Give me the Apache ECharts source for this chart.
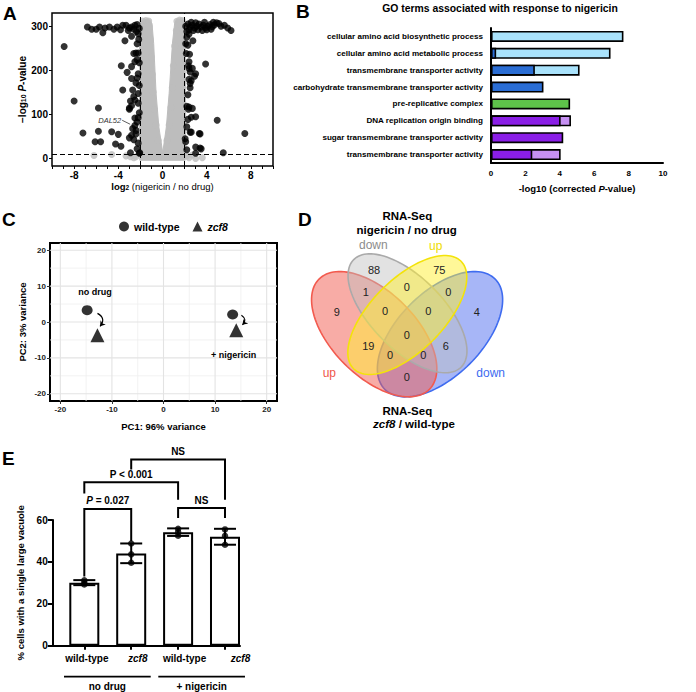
<!DOCTYPE html>
<html>
<head>
<meta charset="utf-8">
<title>Response to nigericin</title>
<script src="https://cdn.jsdelivr.net/npm/echarts@6.0.0/dist/echarts.min.js"></script>
<style>
  html, body { margin: 0; padding: 0; background: #fff; }
  #chart { width: 696px; height: 692px; }
</style>
</head>
<body>
<div id="chart"></div>
<script>
var FF = '"Liberation Sans", Arial, Helvetica, sans-serif';

// ---------- A: volcano plot, [log2 FC, -log10 P] ----------
var volcanoSig = [
  [-8.9,254],[-8.0,130],[-7.2,57],[-6.1,37],[-5.6,37],[-5.8,61],[-5.8,114],[-4.6,60],[-4.0,54],[-4.25,32],
  [-3.76,27],[-3.73,210],[-3.2,195],[-3.6,155],[-2.9,130],[-3.0,114],[-3.4,267],[-2.8,277],[-3.0,111],
  [-6.8,298],[-6.4,293],[-6.0,293],[-5.7,298],[-5.4,285],[-5.2,296],[-4.8,298],[-4.4,293],[-4.1,298],[-3.8,292],
  [-3.6,302],[-3.3,302],[-3.1,290],[-2.8,298],[-2.5,302],[-2.36,288],[-2.1,295],[-2.3,304],[-2.6,293],[-3.0,296],[-2.2,283],
  [-2.4,239],[-2.2,239],[-2.3,224],[-2.1,217],[-2.2,192],[-2.3,182],[-2.4,171],[-2.1,165],[-2.2,147],[-2.6,140],
  [-2.2,125],[-2.1,103],[-2.3,82],[-2.5,74],[-2.7,67],[-2.4,63],[-2.8,52],[-3.0,46],[-2.4,55],[-2.2,34],
  [-2.3,21],[-2.1,11],[-2.6,42],[-2.2,92],[-2.5,91],[-2.9,12],[-2.8,181],[-2.5,219],[-2.6,238],[-2.8,208],
  [-2.7,155],[-2.5,132],[-2.8,119],[-2.06,12],[-2.3,260],[-2.15,270],
  [6.2,290],[3.9,214],[4.95,86],[7.45,56],[3.33,56],[3.5,21],[5.5,12],[3.0,11],[2.6,93],[3.0,94],
  [2.35,111],[2.2,118],[2.5,160],[2.6,176],[2.9,186],[3.0,192],[2.5,196],[2.35,210],[2.45,236],[2.75,267],
  [2.3,257],[2.05,44],[2.1,37],[2.2,71],[2.3,144],[2.15,238],[2.2,19],[2.4,219],[2.4,204],[2.7,204],
  [2.4,179],[2.5,170],[2.4,116],[2.7,113],[2.3,88],[2.5,59],[2.6,59],[3.4,55],[3.0,25],[3.4,23],
  [2.2,275],[2.4,282],[2.1,260],
  [2.1,300],[2.3,305],[2.5,298],[2.7,302],[2.9,296],[3.1,300],[3.3,305],[3.5,298],[3.7,302],[3.9,296],
  [4.1,300],[4.3,304],[4.5,299],[4.7,303],[4.9,308],[5.1,306],[5.3,300],[5.6,302],[5.9,296],[2.4,292],
  [2.8,290],[3.2,292],[3.6,290],[2.2,288],[4.0,292],[4.4,293],[3.0,308],[3.8,309],[2.6,309],[4.6,309]
];
// grey (not significant) points lying outside the dense cloud or on its ragged edge
var volcanoGrey = [
  [-6.2,6],[-4.6,8],[-3.3,5],[-2.9,3],[-2.6,1],[-2.4,3],[2.4,1],[2.7,7],[3.0,-1],[2.2,5],[3.6,1],
  [-1.8,312],[-1.5,313],[-1.25,312],[-1.2,300],[-1.12,270],[-1.02,230],[-0.92,190],[-0.84,150],[-0.72,110],
  [-0.58,75],[-0.38,40],[0.4,40],[0.6,75],[0.76,115],[0.88,160],[0.98,210],[1.1,255],[1.25,290],
  [1.3,311],[1.55,314],[1.8,313],[1.9,305]
];
// outline of the dense grey cloud of non-significant genes
var volcanoCloud = [
  [-2.05,-5],[-2.1,100],[-2.05,200],[-2.1,290],[-1.9,312],[-1.5,315],[-1.15,314],[-0.95,306],[-0.8,261],
  [-0.58,147],[-0.33,71],[0.02,12],[0.35,71],[0.6,147],[0.9,261],[1.1,306],[1.25,315],[1.6,316],
  [1.95,312],[2.1,290],[2.05,200],[2.1,100],[2.05,-5]
];
var dal52 = [-2.6, 75];
var fcCut = 2;
var pCut = 8;

// ---------- B: GO terms ----------
var goTerms = [
  'cellular amino acid biosynthetic process',
  'cellular amino acid metabolic process',
  'transmembrane transporter activity',
  'carbohydrate transmembrane transporter activity',
  'pre-replicative complex',
  'DNA replication origin binding',
  'sugar transmembrane transporter activity',
  'transmembrane transporter activity'
];
var goDark  = [null, 0.3, 2.55, 3.05, 4.6, 4.05, 4.2, 2.4];
var goLight = [7.7, 6.95, 5.15, null, null, 4.65, null, 4.05];
var goDarkColor  = ['#2a6dd4', '#2a6dd4', '#2a6dd4', '#2a6dd4', '#5ec24a', '#8a1ee6', '#8a1ee6', '#8a1ee6'];
var goLightColor = ['#a9e2fb', '#a9e2fb', '#a9e2fb', '#a9e2fb', '#a9e2fb', '#c690f3', '#c690f3', '#c690f3'];

// ---------- C: PCA ----------
var pcaWildType = [[-14.8, 3.3], [13.4, 2.1]];
var pcaZcf8 = [[-12.8, -3.7], [14.1, -2.3]];
var pcaMajor = [-20, -10, 0, 10, 20];
var pcaMinor = [-15, -5, 5, 15];

// ---------- D: Venn ----------
var vennCounts = [88, 75, 9, 4, 1, 0, 0, 0, 0, 0, 19, 6, 0, 0, 0];
// layout: label position of each region (panel units)
var vennLabelPos = [[74,70],[139.3,70],[36.7,111.7],[176.7,111.7],[65.7,91.7],[106.7,87.3],[148.3,91.7],
  [85,111],[128.3,111],[106.7,135],[68.3,145.7],[145.7,145.7],[90,155],[123.3,155],[106.7,176.7]];
var vennShapes = [
  {cx:140, cy:134.2, a:78, b:42, ang:-45, fill:'rgba(79,110,240,0.5)', stroke:'#3f6cf0'},
  {cx:74.2, cy:134.2, a:78, b:42, ang:45, fill:'rgba(242,90,78,0.5)', stroke:'#f25a4e'},
  {cx:107.5, cy:113.3, a:76, b:36, ang:45, fill:'rgba(190,190,190,0.45)', stroke:'#aaaaaa'},
  {cx:107.3, cy:115, a:76, b:36, ang:-45, fill:'rgba(255,240,50,0.5)', stroke:'#f3e30a'}
];

// ---------- E: vacuole morphology ----------
var vacGroups = ['wild-type', 'zcf8', 'wild-type', 'zcf8'];
var vacMean = [30.1, 44.0, 54.2, 52.0];
var vacLow  = [28.9, 39.4, 52.4, 48.2];
var vacHigh = [31.3, 48.8, 56.0, 55.8];
var vacPoints = [[31.2, 30.0, 29.2], [48.8, 43.6, 39.6], [55.8, 54.3, 52.5], [55.5, 52.4, 48.2]];
var sigPairs = [[0, 1], [0, 2], [2, 3], [1, 3]];
var sigLevel = [65.3, 78, 65.7, 88.9];
var sigLegEnds = [[33, 49.8], [72.6, 69.7], [61, 61], [84.1, 69.7]];
var sigText = ['{i|P} = 0.027', 'P < 0.001', 'NS', 'NS'];
var treatGroups = ['no drug', '+ nigericin'];
var treatSpan = [[-0.433, 1.416], [1.578, 3.426]];

function txt(x, y, text, o) {
  o = o || {};
  return {type:'text', x:x, y:y, silent:true, style:{
    text:text, fill:o.color || '#000', fontSize:o.size || 10, fontWeight:o.weight || 'bold',
    fontStyle:o.style || 'normal', fontFamily:FF,
    align:o.align || 'center', textAlign:o.align || 'center',
    verticalAlign:o.va || 'middle', textVerticalAlign:o.va || 'middle', rich:o.rich }};
}
function once(g, z, draw) {
  return {type:'custom', xAxisIndex:g, yAxisIndex:g, z:z, silent:true, data:[[0,0]],
    renderItem:function (params, api) { return {type:'group', children:draw(api)}; }};
}
var ticksA = []; for (var t = -10; t <= 10; t++) ticksA.push(t);
var ticksB = [0,1,2,3,4,5,6,7,8,9,10];

var option = {
  animation: false,
  textStyle: {fontFamily: FF},
  grid: [
    {left:52, top:13, width:221, height:153, show:true, borderColor:'#000', borderWidth:1.5, outerBoundsMode:'none'},
    {left:491, top:28, width:172, height:135, outerBoundsMode:'none'},
    {left:50, top:243, width:227, height:158, show:true, borderColor:'#000', borderWidth:2, outerBoundsMode:'none'},
    {left:300, top:200, width:230, height:230, outerBoundsMode:'none'},
    {left:52.7, top:520, width:187.3, height:125.7, outerBoundsMode:'none'}
  ],
  legend: {
    data: [{name:'wild-type', icon:'circle'}, {name:'zcf8', icon:'triangle', textStyle:{fontStyle:'italic'}}],
    left: 114, top: 216, itemWidth: 10, itemHeight: 10, itemGap: 13, selectedMode: false,
    textStyle: {fontFamily:FF, fontWeight:'bold', fontSize:10.5, color:'#000'}
  },
  xAxis: [
    {gridIndex:0, type:'value', min:-10, max:10, splitLine:{show:false},
      axisLine:{show:false, onZero:false},
      axisTick:{customValues:ticksA, length:3, lineStyle:{color:'#000'}},
      axisLabel:{customValues:[-8,-4,0,4,8], color:'#000', fontWeight:'bold', fontSize:10, margin:4},
      name:'{b|log}{s|2} (nigericin / no drug)', nameLocation:'middle', nameGap:15,
      nameTextStyle:{color:'#000', fontSize:9.5, fontFamily:FF,
        rich:{b:{fontWeight:'bold', fontSize:9.5}, s:{fontWeight:'bold', fontSize:6.5, verticalAlign:'bottom', lineHeight:6}}}},
    {gridIndex:1, type:'value', min:0, max:10, splitLine:{show:false},
      axisLine:{show:true, onZero:false, lineStyle:{color:'#000', width:2}},
      axisTick:{customValues:ticksB, length:4, lineStyle:{color:'#000', width:1.5}},
      axisLabel:{customValues:[0,2,4,6,8,10], color:'#000', fontWeight:'bold', fontSize:8, margin:6},
      name:'-log10 (corrected {i|P}-value)', nameLocation:'middle', nameGap:20,
      nameTextStyle:{color:'#000', fontSize:9.5, fontWeight:'bold', fontFamily:FF,
        rich:{i:{fontStyle:'italic', fontWeight:'bold', fontSize:9.5}}}},
    {gridIndex:2, type:'value', min:-22, max:22, splitLine:{show:false},
      axisLine:{show:false, onZero:false},
      axisTick:{customValues:pcaMajor, length:3, lineStyle:{color:'#333'}},
      axisLabel:{customValues:pcaMajor, color:'#222', fontWeight:'bold', fontSize:8, margin:4},
      name:'PC1: 96% variance', nameLocation:'middle', nameGap:20,
      nameTextStyle:{color:'#000', fontSize:9.5, fontWeight:'bold', fontFamily:FF}},
    {gridIndex:3, type:'value', min:0, max:230, show:false},
    {gridIndex:4, type:'value', min:-0.674, max:3.32, splitLine:{show:false},
      axisLine:{show:true, onZero:false, lineStyle:{color:'#000', width:2}},
      axisTick:{customValues:[0,1,2,3], length:4, lineStyle:{color:'#000', width:2}},
      axisLabel:{customValues:[0,1,2,3], margin:8, color:'#000', fontWeight:'bold', fontSize:10,
        formatter:function (v) { var i = Math.round(v); return '{' + 'abcd'[i] + '|' + vacGroups[i] + '}'; },
        rich:{a:{padding:[0,0,0,5], fontWeight:'bold', fontSize:10},
              b:{padding:[0,0,0,13], fontWeight:'bold', fontStyle:'italic', fontSize:10},
              c:{padding:[0,0,0,13], fontWeight:'bold', fontSize:10},
              d:{padding:[0,0,0,31], fontWeight:'bold', fontStyle:'italic', fontSize:10}}}}
  ],
  yAxis: [
    {gridIndex:0, type:'value', min:-18, max:330, splitLine:{show:false},
      axisLine:{show:false, onZero:false},
      axisTick:{customValues:[0,100,200,300], length:3, lineStyle:{color:'#000'}},
      axisLabel:{customValues:[0,100,200,300], color:'#000', fontWeight:'bold', fontSize:10, margin:4},
      name:'\u2212log{s|10} {i|P}-value', nameLocation:'middle', nameGap:25,
      nameTextStyle:{color:'#000', fontSize:10, fontWeight:'bold', fontFamily:FF,
        rich:{s:{fontWeight:'bold', fontSize:7, verticalAlign:'bottom', lineHeight:7}, i:{fontWeight:'bold', fontStyle:'italic', fontSize:10}}}},
    {gridIndex:1, type:'category', inverse:true,
      data:goTerms.map(function (t, i) { return i + ':' + t; }),
      axisLine:{show:true, lineStyle:{color:'#000', width:2}},
      axisTick:{alignWithLabel:true, length:4, lineStyle:{color:'#000', width:1.5}},
      axisLabel:{color:'#000', fontWeight:'bold', fontSize:8.1, margin:8,
        formatter:function (v, i) { return goTerms[i]; }}},
    {gridIndex:2, type:'value', min:-22, max:22, splitLine:{show:false},
      axisLine:{show:false, onZero:false},
      axisTick:{customValues:pcaMajor, length:3, lineStyle:{color:'#333'}},
      axisLabel:{customValues:pcaMajor, color:'#222', fontWeight:'bold', fontSize:8, margin:4},
      name:'PC2: 3% variance', nameLocation:'middle', nameGap:23,
      nameTextStyle:{color:'#000', fontSize:9.5, fontWeight:'bold', fontFamily:FF}},
    {gridIndex:3, type:'value', min:0, max:230, inverse:true, show:false},
    {gridIndex:4, type:'value', min:0, max:60, interval:20, splitLine:{show:false},
      axisLine:{show:true, onZero:false, lineStyle:{color:'#000', width:2}},
      axisTick:{length:5, lineStyle:{color:'#000', width:2}},
      axisLabel:{color:'#000', fontWeight:'bold', fontSize:10, margin:5},
      name:'% cells with a single large vacuole', nameLocation:'middle', nameGap:27,
      nameTextStyle:{color:'#000', fontSize:9.5, fontWeight:'bold', fontFamily:FF}}
  ],
  graphic: [
    txt(3, 4, 'A', {size:19, align:'left', va:'top'}),
    txt(296, 2, 'B', {size:19, align:'left', va:'top'}),
    txt(2, 210, 'C', {size:19, align:'left', va:'top'}),
    txt(298, 210, 'D', {size:19, align:'left', va:'top'}),
    txt(2, 449, 'E', {size:19, align:'left', va:'top'}),
    txt(500, 8.5, 'GO terms associated with response to nigericin', {size:10.4}),
    txt(407.3, 216, 'RNA-Seq', {size:11.5}),
    txt(406.7, 230, 'nigericin / no drug', {size:11.5}),
    txt(373.3, 245, 'down', {size:12, weight:'normal', color:'#8c8c8c'}),
    txt(435.7, 245.7, 'up', {size:12, weight:'normal', color:'#eedc00'}),
    txt(329.3, 373.3, 'up', {size:12, weight:'normal', color:'#f0564a'}),
    txt(490.7, 373.3, 'down', {size:12, weight:'normal', color:'#3d6bf0'}),
    txt(407.3, 410.7, 'RNA-Seq', {size:11.5}),
    txt(414, 424, '{i|zcf8} / wild-type', {size:11.5, rich:{i:{fontStyle:'italic', fontWeight:'bold', fontSize:11.5, fontFamily:FF}}})
  ],
  series: [
    // ----- A -----
    once(0, 1, function (api) {
      return [{type:'polygon', shape:{points:volcanoCloud.map(function (p) { return api.coord(p); })},
        style:{fill:'#bdbdbd', stroke:'#bdbdbd', lineWidth:1}}];
    }),
    {type:'scatter', xAxisIndex:0, yAxisIndex:0, z:2, silent:true, data:volcanoGrey, symbolSize:7,
      itemStyle:{color:'#bdbdbd'},
      markLine:{silent:true, symbol:['none','none'], label:{show:false},
        lineStyle:{color:'#000', type:[5,3], width:1},
        data:[{xAxis:-fcCut}, {xAxis:fcCut}, {yAxis:pCut}]}},
    {type:'scatter', xAxisIndex:0, yAxisIndex:0, z:3, silent:true, data:volcanoSig, symbolSize:7,
      itemStyle:{color:'#000'}},
    once(0, 4, function (api) {
      var a = api.coord([-3.74, 86]), b = api.coord([-2.93, 77]);
      return [txt(a[0], a[1], 'DAL52', {size:7.5, weight:'normal', style:'italic', color:'#333', align:'right'}),
        {type:'line', shape:{x1:a[0] + 1, y1:a[1], x2:b[0], y2:b[1]}, style:{stroke:'#333', lineWidth:0.8}}];
    }),
    // ----- B -----
    {type:'bar', xAxisIndex:1, yAxisIndex:1, barWidth:11, barGap:'-100%', silent:true,
      data:goLight.map(function (v, i) { return {value: v == null ? '-' : v, itemStyle:{color:goLightColor[i]}}; }),
      itemStyle:{borderColor:'#000', borderWidth:1.6}},
    {type:'bar', xAxisIndex:1, yAxisIndex:1, barWidth:11, barGap:'-100%', silent:true,
      data:goDark.map(function (v, i) { return {value: v == null ? '-' : v, itemStyle:{color:goDarkColor[i]}}; }),
      itemStyle:{borderColor:'#000', borderWidth:1.6}},
    // ----- C -----
    once(2, 1, function (api) {
      var els = [];
      function vline(v, c, w) { var p = api.coord([v, -22]), q = api.coord([v, 22]);
        els.push({type:'line', shape:{x1:p[0], y1:p[1], x2:q[0], y2:q[1]}, style:{stroke:c, lineWidth:w}}); }
      function hline(v, c, w) { var p = api.coord([-22, v]), q = api.coord([22, v]);
        els.push({type:'line', shape:{x1:p[0], y1:p[1], x2:q[0], y2:q[1]}, style:{stroke:c, lineWidth:w}}); }
      pcaMinor.forEach(function (v) { vline(v, '#efefef', 0.8); hline(v, '#efefef', 0.8); });
      pcaMajor.forEach(function (v) { vline(v, '#e3e3e3', 1.1); hline(v, '#e3e3e3', 1.1); });
      return els;
    }),
    {type:'scatter', name:'wild-type', xAxisIndex:2, yAxisIndex:2, z:3, silent:true, data:pcaWildType,
      symbol:'circle', symbolSize:[11, 10], itemStyle:{color:'#000'}},
    {type:'scatter', name:'zcf8', xAxisIndex:2, yAxisIndex:2, z:3, silent:true, data:pcaZcf8,
      symbol:'triangle', symbolSize:14, itemStyle:{color:'#000'}},
    {type:'lines', coordinateSystem:'cartesian2d', xAxisIndex:2, yAxisIndex:2, z:4, silent:true,
      symbol:['none','arrow'], symbolSize:5,
      lineStyle:{color:'#000', width:1.2, curveness:0.6, opacity:1},
      data:[{coords:[[-12.8, 2.4], [-12.3, -1.2]]}, {coords:[[15.1, 1.9], [15.3, -0.8]]}]},
    once(2, 5, function (api) {
      var a = api.coord([-13.3, 8.4]), b = api.coord([13.6, -9.1]);
      return [txt(a[0], a[1], 'no drug', {size:9}), txt(b[0], b[1], '+ nigericin', {size:9})];
    }),
    // ----- D -----
    {type:'custom', xAxisIndex:3, yAxisIndex:3, z:2, silent:true,
      data:vennShapes.map(function (e) { return [e.cx, e.cy]; }),
      renderItem:function (params, api) {
        var e = vennShapes[params.dataIndex];
        var c = api.coord([e.cx, e.cy]);
        var s = api.size([e.a, e.b]);
        var ra = Math.abs(s[0]), rb = Math.abs(s[1]);
        var t = e.ang * Math.PI / 180, pts = [];
        for (var k = 0; k < 120; k++) {
          var th = k / 120 * 2 * Math.PI, u = ra * Math.cos(th), v = rb * Math.sin(th);
          pts.push([c[0] + u * Math.cos(t) - v * Math.sin(t), c[1] + u * Math.sin(t) + v * Math.cos(t)]);
        }
        return {type:'polygon', shape:{points:pts}, style:{fill:e.fill, stroke:e.stroke, lineWidth:1.6}};
      }},
    {type:'custom', xAxisIndex:3, yAxisIndex:3, z:3, silent:true,
      data:vennCounts.map(function (c, i) { return [vennLabelPos[i][0], vennLabelPos[i][1], c]; }),
      renderItem:function (params, api) {
        var p = api.coord([api.value(0), api.value(1)]);
        return txt(p[0], p[1], String(api.value(2)), {size:11, weight:'normal', color:'#222'});
      }},
    // ----- E -----
    {type:'bar', xAxisIndex:4, yAxisIndex:4, barWidth:30, silent:true, z:2,
      data:vacMean.map(function (m, i) { return [i, m]; }),
      itemStyle:{color:'#fff', borderColor:'#000', borderWidth:2}},
    {type:'custom', xAxisIndex:4, yAxisIndex:4, z:3, silent:true,
      data:vacMean.map(function (m, i) { return [i, m]; }),
      renderItem:function (params, api) {
        var i = params.dataIndex;
        var lo = api.coord([i, vacLow[i]]), hi = api.coord([i, vacHigh[i]]), w = 11;
        var st = {stroke:'#000', lineWidth:2};
        return {type:'group', children:[
          {type:'line', shape:{x1:lo[0], y1:lo[1], x2:hi[0], y2:hi[1]}, style:st},
          {type:'line', shape:{x1:lo[0] - w, y1:lo[1], x2:lo[0] + w, y2:lo[1]}, style:st},
          {type:'line', shape:{x1:hi[0] - w, y1:hi[1], x2:hi[0] + w, y2:hi[1]}, style:st}]};
      }},
    {type:'scatter', xAxisIndex:4, yAxisIndex:4, z:4, silent:true, symbolSize:6.5, itemStyle:{color:'#000'},
      data:[].concat.apply([], vacPoints.map(function (ps, i) { return ps.map(function (v) { return [i, v]; }); }))},
    {type:'custom', xAxisIndex:4, yAxisIndex:4, z:5, silent:true,
      data:sigPairs.map(function (p, i) { return [p[0], sigLevel[i]]; }),
      renderItem:function (params, api) {
        var k = params.dataIndex, pr = sigPairs[k], lv = sigLevel[k], ends = sigLegEnds[k];
        var pts = [api.coord([pr[0], ends[0]]), api.coord([pr[0], lv]), api.coord([pr[1], lv]), api.coord([pr[1], ends[1]])];
        var mid = api.coord([(pr[0] + pr[1]) / 2, lv]);
        return {type:'group', children:[
          {type:'polyline', shape:{points:pts}, style:{stroke:'#000', lineWidth:2, fill:null}},
          txt(mid[0], mid[1] - 3, sigText[k], {size:10, va:'bottom',
            rich:{i:{fontStyle:'italic', fontWeight:'bold', fontSize:10, fontFamily:FF}}})]};
      }},
    once(4, 5, function (api) {
      var els = [];
      treatGroups.forEach(function (g, i) {
        var a = api.coord([treatSpan[i][0], -14.8]), b = api.coord([treatSpan[i][1], -14.8]);
        var c = api.coord([(treatSpan[i][0] + treatSpan[i][1]) / 2, -19.6]);
        els.push({type:'line', shape:{x1:a[0], y1:a[1], x2:b[0], y2:b[1]}, style:{stroke:'#000', lineWidth:1.8}});
        els.push(txt(c[0], c[1], g, {size:10}));
      });
      return els;
    })
  ]
};

var chart = echarts.init(document.getElementById('chart'), null, {renderer:'svg'});
chart.setOption(option);
window.addEventListener('resize', function () { chart.resize(); });
</script>
</body>
</html>
